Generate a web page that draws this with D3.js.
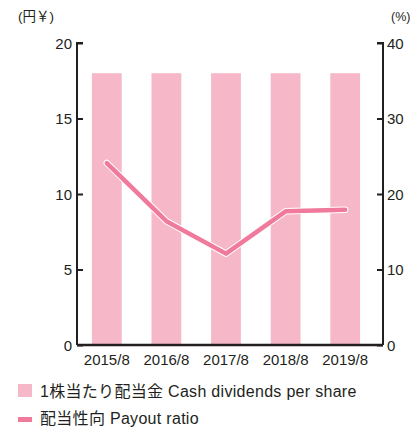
<!DOCTYPE html>
<html>
<head>
<meta charset="utf-8">
<script src="https://cdn.jsdelivr.net/npm/d3@7"></script>
<style>
  body { margin: 0; background: #fff; }
  text { font-family: "Liberation Sans", "Noto Sans CJK JP", sans-serif; fill: #231f20; }
</style>
</head>
<body>
<div id="chart"></div>
<script>
const years = ["2015/8", "2016/8", "2017/8", "2018/8", "2019/8"];
const dividends = [18, 18, 18, 18, 18];
const payout = [24.1, 16.4, 12.1, 17.7, 17.9];
const leftTicks = [0, 5, 10, 15, 20];
const rightTicks = [0, 10, 20, 30, 40];

const width = 410, height = 432;
const plotLeft = 77, plotRight = 383, plotTop = 43, plotBottom = 345;
const ink = "#231f20";
const barColor = "#f6b8c8";
const lineColor = "#f07a9b";

const svg = d3.select("#chart")
    .append("svg")
    .attr("width", width)
    .attr("height", height);

const xScale = d3.scaleBand()
    .domain(years)
    .range([plotLeft, 375])
    .paddingInner(0.5)
    .paddingOuter(0.25);

const yLeft = d3.scaleLinear().domain([0, 20]).range([plotBottom, plotTop]);
const yRight = d3.scaleLinear().domain([0, 40]).range([plotBottom, plotTop]);

svg.selectAll("rect.bar")
    .data(dividends)
    .enter()
    .append("rect")
    .attr("class", "bar")
    .attr("x", (d, i) => xScale(years[i]))
    .attr("y", d => yLeft(d))
    .attr("width", xScale.bandwidth())
    .attr("height", d => plotBottom - yLeft(d))
    .attr("fill", barColor);

const line = d3.line()
    .x((d, i) => xScale(years[i]) + xScale.bandwidth() / 2)
    .y(d => yRight(d));

svg.append("path")
    .datum(payout)
    .attr("d", line)
    .attr("fill", "none")
    .attr("stroke", "#fff")
    .attr("stroke-width", 6.5)
    .attr("stroke-linejoin", "round")
    .attr("stroke-linecap", "round");

svg.append("path")
    .datum(payout)
    .attr("d", line)
    .attr("fill", "none")
    .attr("stroke", lineColor)
    .attr("stroke-width", 4.5)
    .attr("stroke-linejoin", "round")
    .attr("stroke-linecap", "round");

const yAxisL = d3.axisRight(yLeft).tickValues(leftTicks).tickSize(6).tickFormat("");
const gL = svg.append("g")
    .attr("transform", "translate(" + plotLeft + ",0)")
    .call(yAxisL);
gL.select(".domain").attr("stroke", ink).attr("stroke-width", 2).attr("d", "M6," + plotTop + "H0V" + plotBottom);
gL.selectAll(".tick line").attr("stroke", ink).attr("stroke-width", 2);

const yAxisR = d3.axisLeft(yRight).tickValues(rightTicks).tickSize(6).tickFormat("");
const gR = svg.append("g")
    .attr("transform", "translate(" + plotRight + ",0)")
    .call(yAxisR);
gR.select(".domain").attr("stroke", ink).attr("stroke-width", 2).attr("d", "M-6," + plotTop + "H0V" + plotBottom);
gR.selectAll(".tick line").attr("stroke", ink).attr("stroke-width", 2);

svg.append("line")
    .attr("x1", plotLeft).attr("x2", plotRight)
    .attr("y1", plotBottom).attr("y2", plotBottom)
    .attr("stroke", ink).attr("stroke-width", 2.5);

svg.selectAll("text.yl")
    .data(leftTicks)
    .enter()
    .append("text")
    .attr("class", "yl")
    .attr("x", 72)
    .attr("y", d => yLeft(d) + 5.5)
    .attr("text-anchor", "end")
    .attr("font-size", 15)
    .text(d => d);

svg.selectAll("text.yr")
    .data(rightTicks)
    .enter()
    .append("text")
    .attr("class", "yr")
    .attr("x", 387)
    .attr("y", d => yRight(d) + 5.5)
    .attr("font-size", 15)
    .text(d => d);

svg.selectAll("text.xl")
    .data(years)
    .enter()
    .append("text")
    .attr("class", "xl")
    .attr("x", d => xScale(d) + xScale.bandwidth() / 2)
    .attr("y", 365)
    .attr("text-anchor", "middle")
    .attr("font-size", 15)
    .text(d => d);

svg.append("text").attr("x", 18).attr("y", 21).attr("font-size", 13.5).text("(円￥)");
svg.append("text").attr("x", 391).attr("y", 21).attr("font-size", 12.5).text("(%)");

// legend
svg.append("rect").attr("x", 18).attr("y", 384).attr("width", 14).attr("height", 13).attr("fill", barColor);
svg.append("text").attr("x", 40).attr("y", 397).attr("font-size", 16).attr("letter-spacing", 0.3)
    .text("1株当たり配当金 Cash dividends per share");
svg.append("rect").attr("x", 18).attr("y", 417).attr("width", 14).attr("height", 5).attr("fill", lineColor);
svg.append("text").attr("x", 40).attr("y", 424).attr("font-size", 16).attr("letter-spacing", 0.3)
    .text("配当性向 Payout ratio");
</script>
</body>
</html>
